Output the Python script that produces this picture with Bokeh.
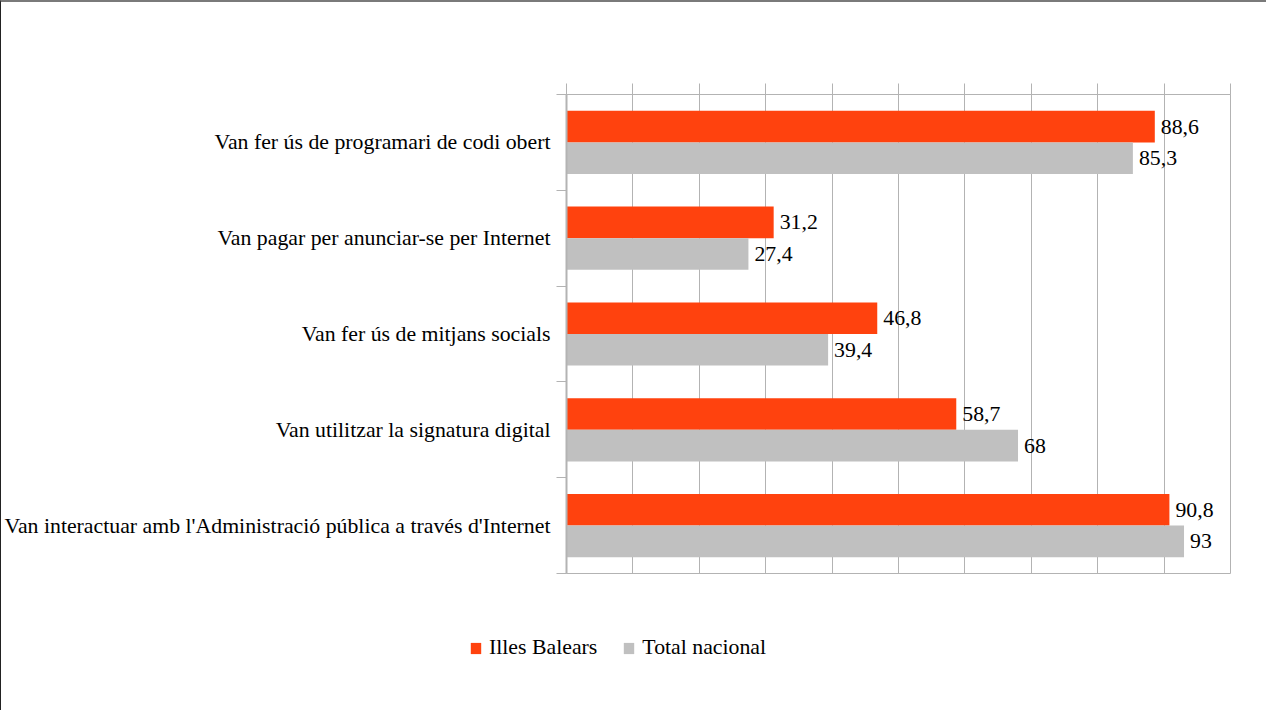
from bokeh.plotting import figure
from bokeh.models import (Range1d, FixedTicker, ColumnDataSource,
                          Legend, LegendItem)
from bokeh.core.properties import value
from bokeh.embed import file_html
from bokeh.resources import INLINE

categories = [
    "Van fer ús de programari de codi obert",
    "Van pagar per anunciar-se per Internet",
    "Van fer ús de mitjans socials",
    "Van utilitzar la signatura digital",
    "Van interactuar amb l'Administració pública a través d'Internet",
]
balears = [88.6, 31.2, 46.8, 58.7, 90.8]
nacional = [85.3, 27.4, 39.4, 68, 93]
series_names = ["Illes Balears", "Total nacional"]
colors = ["#ff420e", "#c0c0c0"]
x_ticks = list(range(0, 101, 10))

FONT = "Liberation Serif"
FS = "21.8px"
n = len(categories)
centers = [n - 0.5 - i for i in range(n)]
bar_h = 0.33

def fmt(v):
    return ("%g" % v).replace(".", ",")

src_b = ColumnDataSource(dict(y=[c + bar_h / 2 for c in centers], x=balears,
                              label=[fmt(v) for v in balears]))
src_n = ColumnDataSource(dict(y=[c - bar_h / 2 for c in centers], x=nacional,
                              label=[fmt(v) for v in nacional]))

p = figure(width=1266, height=600, output_backend="svg", toolbar_location=None,
           x_range=Range1d(0, 100), y_range=Range1d(0, n),
           x_axis_location="above",
           min_border_left=564, min_border_right=37,
           min_border_top=92, min_border_bottom=29)
p.styles = {"border-top": "2px solid #7a7a7a", "border-left": "1px solid #222222"}

p.outline_line_color = "#b3b3b3"
p.outline_line_width = 1

# top axis (ticks only)
xa = p.xaxis[0]
xa.ticker = FixedTicker(ticks=x_ticks)
xa.major_label_text_font_size = "0px"
xa.major_label_text_alpha = 0
xa.major_tick_in = 0
xa.major_tick_out = 11
xa.major_tick_line_color = "#b3b3b3"
xa.minor_tick_line_color = None
xa.axis_line_color = "#b3b3b3"

p.xgrid.ticker = FixedTicker(ticks=x_ticks)
p.xgrid.grid_line_color = "#b3b3b3"
p.ygrid.grid_line_color = None

ya = p.yaxis[0]
ya.ticker = FixedTicker(ticks=centers, minor_ticks=list(range(0, n + 1)))
ya.major_label_overrides = {c: categories[i] for i, c in enumerate(centers)}
ya.major_tick_out = 0
ya.major_tick_in = 0
ya.minor_tick_out = 10
ya.minor_tick_in = 0
ya.minor_tick_line_color = "#b3b3b3"
ya.axis_line_color = "#b3b3b3"
ya.axis_line_width = 2
ya.major_label_standoff = 6
ya.major_label_text_font = FONT
ya.major_label_text_font_size = FS
ya.major_label_text_color = "#000000"

p.hbar(y="y", right="x", left=0, height=bar_h, source=src_b,
       fill_color=colors[0], line_color=None)
p.hbar(y="y", right="x", left=0, height=bar_h, source=src_n,
       fill_color=colors[1], line_color=None)

for s in (src_b, src_n):
    p.text(x="x", y="y", text="label", source=s, x_offset=6,
           text_baseline="middle", text_align="left",
           text_font=value(FONT), text_font_size=FS, text_color="#000000")

# legend strip (separate root, so it is not frame-aligned)
q = figure(width=1266, height=110, output_backend="svg", toolbar_location=None,
           x_range=Range1d(0, 100), y_range=Range1d(n + 10, n + 11),
           x_axis_location=None, y_axis_location=None,
           min_border=0)
q.styles = {"border-left": "1px solid #222222"}
q.outline_line_color = None
q.grid.grid_line_color = None
l1 = q.hbar(y="y", right="x", left=0, height=bar_h, source=src_b,
            fill_color=colors[0], line_color=None)
l2 = q.hbar(y="y", right="x", left=0, height=bar_h, source=src_n,
            fill_color=colors[1], line_color=None)
legend = Legend(items=[LegendItem(label=series_names[0], renderers=[l1]),
                       LegendItem(label=series_names[1], renderers=[l2])],
                orientation="horizontal", location=(468, 50),
                glyph_width=13, glyph_height=14, label_standoff=7, spacing=25,
                label_text_font=FONT, label_text_font_size=FS,
                label_text_color="#000000", label_height=24,
                background_fill_alpha=0, border_line_color=None,
                padding=0, margin=0)
q.add_layout(legend, "center")

open("out.html", "w").write(file_html([p, q], INLINE))
